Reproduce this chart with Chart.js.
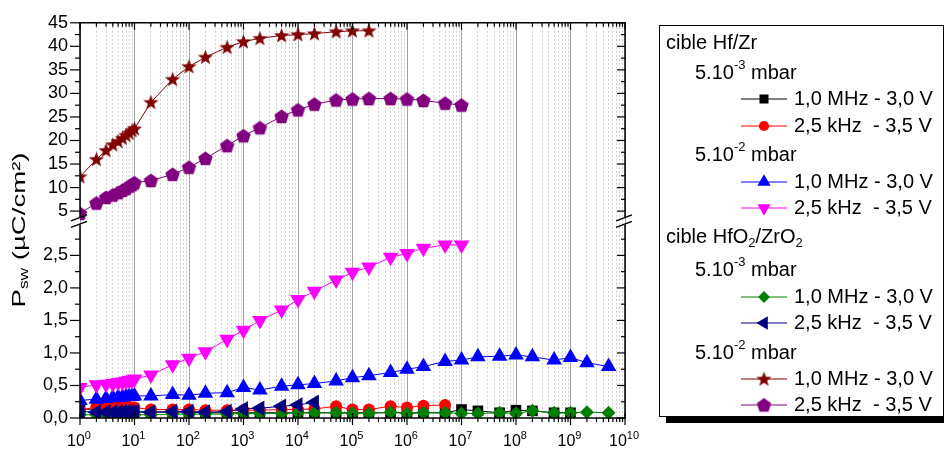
<!DOCTYPE html>
<html>
<head>
<meta charset="utf-8">
<script src="https://cdn.jsdelivr.net/npm/chart.js@4.4.1/dist/chart.umd.min.js"></script>
<style>
  html, body { margin: 0; padding: 0; background: #fff; }
</style>
</head>
<body>
<canvas id="chart" width="944" height="450"></canvas>
<script>
// frequency points (cycles) shared by every series
const freq = [1, 2, 3, 4, 5, 6, 7, 8, 9, 10, 20, 50, 100, 200, 500, 1e3, 2e3, 5e3, 1e4, 2e4,
  5e4, 1e5, 2e5, 5e5, 1e6, 2e6, 5e6, 1e7, 2e7, 5e7, 1e8, 2e8, 5e8, 1e9, 2e9, 5e9];

// cible Hf/Zr, 5.10-3 mbar
const hfzr3_1MHz = [0.14, 0.13, 0.12, 0.12, 0.11, 0.11, 0.11, 0.10, 0.10, 0.10, 0.09, 0.09, 0.09, 0.08, 0.08, 0.08, 0.08, 0.08, 0.08, 0.08,
  0.08, 0.08, 0.08, 0.08, 0.08, 0.08, 0.08, 0.13, 0.11, 0.08, 0.12, 0.11, 0.08, 0.08];
const hfzr3_2kHz = [0.12, 0.17, 0.18, 0.18, 0.18, 0.17, 0.17, 0.17, 0.16, 0.16, 0.13, 0.13, 0.13, 0.12, 0.12, 0.12, 0.12, 0.13, 0.13, 0.14,
  0.18, 0.13, 0.13, 0.18, 0.16, 0.19, 0.20];
// cible Hf/Zr, 5.10-2 mbar
const hfzr2_1MHz = [0.27, 0.29, 0.30, 0.31, 0.32, 0.32, 0.33, 0.33, 0.33, 0.34, 0.34, 0.36, 0.35, 0.38, 0.39, 0.47, 0.43, 0.49, 0.51, 0.53,
  0.57, 0.62, 0.65, 0.70, 0.75, 0.79, 0.87, 0.89, 0.94, 0.95, 0.97, 0.94, 0.89, 0.93, 0.85, 0.79];
const hfzr2_2kHz = [0.47, 0.51, 0.52, 0.53, 0.545, 0.555, 0.565, 0.575, 0.585, 0.60, 0.66, 0.82, 0.92, 1.02, 1.21, 1.35, 1.50, 1.66, 1.82, 1.95,
  2.12, 2.24, 2.32, 2.47, 2.53, 2.61, 2.66, 2.66];
// cible HfO2/ZrO2, 5.10-3 mbar
const oxy3_1MHz = [0.05, 0.05, 0.05, 0.05, 0.05, 0.05, 0.05, 0.05, 0.05, 0.05, 0.05, 0.06, 0.06, 0.06, 0.06, 0.07, 0.07, 0.07, 0.08, 0.08,
  0.08, 0.07, 0.07, 0.09, 0.07, 0.08, 0.08, 0.07, 0.07, 0.08, 0.07, 0.11, 0.08, 0.08, 0.09, 0.08];
const oxy3_2kHz = [0.10, 0.09, 0.09, 0.09, 0.09, 0.09, 0.09, 0.09, 0.09, 0.09, 0.09, 0.10, 0.10, 0.09, 0.10, 0.14, 0.15, 0.18, 0.20, 0.24];
// cible HfO2/ZrO2, 5.10-2 mbar (upper part of the broken axis)
const oxy2_1MHz = [12.3, 16.0, 17.9, 19.1, 19.8, 20.5, 21.1, 21.6, 22.1, 22.5, 28.1, 33.0, 35.7, 37.7, 39.8, 41.0, 41.7, 42.3, 42.5, 42.7,
  43.1, 43.3, 43.3];
const oxy2_2kHz = [4.5, 6.7, 7.9, 8.4, 8.9, 9.4, 9.8, 10.3, 10.6, 11.0, 11.5, 12.8, 14.3, 16.2, 18.9, 21.0, 22.7, 25.1, 26.5, 27.7,
  28.6, 28.8, 28.9, 28.9, 28.8, 28.5, 27.9, 27.5];

const seriesNames = ['1,0 MHz - 3,0 V', '2,5 kHz  - 3,5 V'];
const xDecades = [1, 1e1, 1e2, 1e3, 1e4, 1e5, 1e6, 1e7, 1e8, 1e9, 1e10];
const yLowerTicks = [0, 0.5, 1, 1.5, 2, 2.5];
const yUpperTicks = [5, 10, 15, 20, 25, 30, 35, 40, 45];

const FONT = '"Liberation Sans", Arial, sans-serif';
Chart.defaults.font.family = FONT;

function shapeCanvas(color, kind) {
  const c = document.createElement('canvas');
  c.width = 17; c.height = 17;
  const g = c.getContext('2d');
  g.fillStyle = color;
  g.beginPath();
  if (kind === 'star') {
    for (let i = 0; i < 10; i++) {
      const a = -Math.PI / 2 + i * Math.PI / 5;
      const r = i % 2 ? 3.3 : 8;
      g.lineTo(8.5 + r * Math.cos(a), 9 + r * Math.sin(a));
    }
  } else {
    for (let i = 0; i < 5; i++) {
      const a = -Math.PI / 2 + i * 2 * Math.PI / 5;
      g.lineTo(8.5 + 7.6 * Math.cos(a), 9 + 7.6 * Math.sin(a));
    }
  }
  g.closePath();
  g.fill();
  return c;
}

const series = [
  { vals: hfzr3_1MHz, color: '#000000', style: 'rect', radius: 7.5, rot: 0, axis: 'y' },
  { vals: hfzr3_2kHz, color: '#FF0000', style: 'circle', radius: 6, rot: 0, axis: 'y' },
  { vals: hfzr2_1MHz, color: '#0000FF', style: 'triangle', radius: 9, rot: 0, axis: 'y' },
  { vals: hfzr2_2kHz, color: '#FF00FF', style: 'triangle', radius: 9, rot: 180, axis: 'y' },
  { vals: oxy3_1MHz, color: '#008000', style: 'rectRot', radius: 7, rot: 0, axis: 'y' },
  { vals: oxy3_2kHz, color: '#000080', style: 'triangle', radius: 9, rot: 270, axis: 'y' },
  { vals: oxy2_1MHz, color: '#800000', style: shapeCanvas('#800000', 'star'), radius: 8, rot: 0, axis: 'y2' },
  { vals: oxy2_2kHz, color: '#800080', style: shapeCanvas('#800080', 'pentagon'), radius: 8, rot: 0, axis: 'y2' }
];

const datasets = series.map((s, i) => ({
  label: seriesNames[i % 2],
  data: s.vals.map((v, k) => ({ x: freq[k], y: v })),
  yAxisID: s.axis,
  borderColor: s.color,
  backgroundColor: s.color,
  borderWidth: 1,
  pointStyle: s.style,
  pointRadius: s.radius,
  pointRotation: s.rot,
  pointBorderWidth: 0,
  tension: 0,
  order: 10 - i
}));

const isDecade = v => Math.abs(Math.log10(v) - Math.round(Math.log10(v))) < 1e-9;

function drawRich(ctx, parts, x, y) {
  // parts: [text, size, dy]
  let cx = x;
  for (const [t, size, dy] of parts) {
    ctx.font = size + 'px ' + FONT;
    ctx.fillText(t, cx, y + dy);
    cx += ctx.measureText(t).width;
  }
  return cx - x;
}
function richWidth(ctx, parts) {
  let w = 0;
  for (const [t, size] of parts) { ctx.font = size + 'px ' + FONT; w += ctx.measureText(t).width; }
  return w;
}

const framePlugin = {
  id: 'frame',
  afterDraw(chart) {
    const { ctx, chartArea: a, scales } = chart;
    const xs = scales.x, yl = scales.y, yu = scales.y2;
    const yb = yl.top;
    const line = (x1, y1, x2, y2) => { ctx.beginPath(); ctx.moveTo(x1, y1); ctx.lineTo(x2, y2); ctx.stroke(); };
    ctx.save();
    ctx.strokeStyle = '#000';
    ctx.lineWidth = 1.5;
    line(a.left - 0.75, a.top, a.right + 0.75, a.top);
    line(a.left - 0.75, a.bottom, a.right + 0.75, a.bottom);
    line(a.left, a.top, a.left, yb - 5);
    line(a.left, yb + 2, a.left, a.bottom);
    line(a.right, a.top, a.right, yb - 5);
    line(a.right, yb + 2, a.right, a.bottom);

    // x ticks
    ctx.lineWidth = 1.2;
    for (let d = 0; d < xDecades.length; d++) {
      for (let m = 1; m <= 9; m++) {
        const v = xDecades[d] * m;
        if (v > 1e10) break;
        const px = xs.getPixelForValue(v);
        const major = m === 1;
        line(px, a.top, px, a.top + (major ? 7 : 4));
        line(px, a.bottom - (major ? 5 : 0), px, a.bottom + (major ? 7 : 4));
      }
    }
    // y ticks
    const yTick = (py, major) => {
      line(a.left - (major ? 10 : 5), py, a.left, py);
      line(a.right - (major ? 8 : 4), py, a.right, py);
    };
    for (let v = 0; v < 2.99; v += 0.25) yTick(yl.getPixelForValue(v), Math.abs(v * 2 - Math.round(v * 2)) < 1e-6);
    for (let v = 5; v <= 45; v += 2.5) yTick(yu.getPixelForValue(v), v % 5 === 0);

    // axis break marks
    ctx.lineWidth = 1.5;
    for (const xa of [a.left, a.right]) {
      line(xa - 9, yb - 2, xa + 7, yb - 8);
      line(xa - 9, yb + 4.5, xa + 7, yb - 1.5);
    }

    // x labels 10^n
    ctx.fillStyle = '#000';
    ctx.textBaseline = 'middle';
    ctx.textAlign = 'left';
    xDecades.forEach((v, n) => {
      const parts = [['10', 16, 0], [String(n), 11, -6]];
      const w = richWidth(ctx, parts);
      drawRich(ctx, parts, xs.getPixelForValue(v) - w / 2 - 1, a.bottom + 24);
    });

    // y title
    ctx.save();
    ctx.translate(20, 230);
    ctx.rotate(-Math.PI / 2);
    const tparts = [['P', 19, 0], ['sw', 12, 5], [' (\u00B5C/cm\u00B2)', 19, 0]];
    const tw = richWidth(ctx, tparts);
    ctx.scale(155 / tw, 1);
    drawRich(ctx, tparts, -tw / 2, 0);
    ctx.restore();

    // legend
    const L = { left: 659, top: 25, right: 943, bottom: 416 };
    ctx.fillStyle = '#000';
    ctx.fillRect(L.left + 7, L.bottom, 944 - L.left - 7, 7);
    ctx.fillStyle = '#fff';
    ctx.fillRect(L.left, L.top, L.right - L.left, L.bottom - L.top);
    ctx.strokeStyle = '#000';
    ctx.lineWidth = 1;
    ctx.strokeRect(L.left + 0.5, L.top + 0.5, L.right - L.left, L.bottom - L.top);

    ctx.fillStyle = '#000';
    const rows = [
      { y: 43, kind: 'target', parts: [['cible Hf/Zr', 20, 0]] },
      { y: 73, kind: 'p', parts: [['5.10', 20, 0], ['-3', 13, -8], [' mbar', 20, 0]] },
      { y: 99, kind: 's', idx: 0 }, { y: 126, kind: 's', idx: 1 },
      { y: 155, kind: 'p', parts: [['5.10', 20, 0], ['-2', 13, -8], [' mbar', 20, 0]] },
      { y: 182, kind: 's', idx: 2 }, { y: 208, kind: 's', idx: 3 },
      { y: 237, kind: 'target', parts: [['cible HfO', 20, 0], ['2', 13, 6], ['/ZrO', 20, 0], ['2', 13, 6]] },
      { y: 270, kind: 'p', parts: [['5.10', 20, 0], ['-3', 13, -8], [' mbar', 20, 0]] },
      { y: 297, kind: 's', idx: 4 }, { y: 323, kind: 's', idx: 5 },
      { y: 353, kind: 'p', parts: [['5.10', 20, 0], ['-2', 13, -8], [' mbar', 20, 0]] },
      { y: 379, kind: 's', idx: 6 }, { y: 405, kind: 's', idx: 7 }
    ];
    for (const r of rows) {
      if (r.kind === 'target') drawRich(ctx, r.parts, 666, r.y);
      else if (r.kind === 'p') drawRich(ctx, r.parts, 695, r.y);
      else {
        const s = series[r.idx];
        ctx.strokeStyle = s.color;
        ctx.lineWidth = 1;
        line(741, r.y, 787, r.y);
        ctx.fillStyle = s.color;
        Chart.helpers.drawPoint(ctx, { pointStyle: s.style, rotation: s.rot, radius: s.radius * 0.85, borderWidth: 0 }, 764, r.y);
        ctx.fillStyle = '#000';
        drawRich(ctx, [[seriesNames[r.idx % 2], 20, 0]], 794, r.y);
      }
    }
    ctx.restore();
  }
};

new Chart(document.getElementById('chart'), {
  type: 'line',
  data: { datasets },
  options: {
    responsive: false,
    animation: false,
    devicePixelRatio: 1,
    events: [],
    layout: { autoPadding: false, padding: { left: 0, top: 17, right: 319, bottom: 0 } },
    plugins: { legend: { display: false }, tooltip: { enabled: false } },
    scales: {
      x: {
        type: 'logarithmic',
        position: 'bottom',
        min: 1,
        max: 1e10,
        afterFit: s => { s.height = 32; },
        afterBuildTicks: s => {
          const t = [];
          xDecades.forEach(d => { for (let m = 1; m <= 9; m++) if (d * m <= 1e10) t.push({ value: d * m }); });
          s.ticks = t;
        },
        ticks: { display: false },
        border: {
          display: false,
          dash: c => (c.tick && !isDecade(c.tick.value)) ? [2, 2] : []
        },
        grid: {
          drawTicks: false,
          lineWidth: 1,
          color: c => (c.tick && isDecade(c.tick.value)) ? '#a3a3a3' : '#cfcfcf'
        }
      },
      y: {
        type: 'linear',
        position: 'left',
        stack: 'left',
        stackWeight: 197,
        min: 0,
        max: 3,
        afterFit: s => { s.width = 80; },
        afterBuildTicks: s => { s.ticks = yLowerTicks.map(v => ({ value: v })); },
        ticks: {
          autoSkip: false,
          color: '#000',
          font: { size: 18 },
          padding: 12,
          callback: v => v.toFixed(1).replace('.', ',')
        },
        grid: { display: false, drawTicks: false },
        border: { display: false }
      },
      y2: {
        type: 'linear',
        position: 'left',
        stack: 'left',
        stackWeight: 202,
        min: 2.5,
        max: 45,
        afterFit: s => { s.width = 80; },
        afterBuildTicks: s => { s.ticks = yUpperTicks.map(v => ({ value: v })); },
        ticks: {
          autoSkip: false,
          color: '#000',
          font: { size: 18 },
          padding: 12,
          callback: v => String(v)
        },
        grid: { display: false, drawTicks: false },
        border: { display: false }
      }
    }
  },
  plugins: [framePlugin]
});
</script>
</body>
</html>
